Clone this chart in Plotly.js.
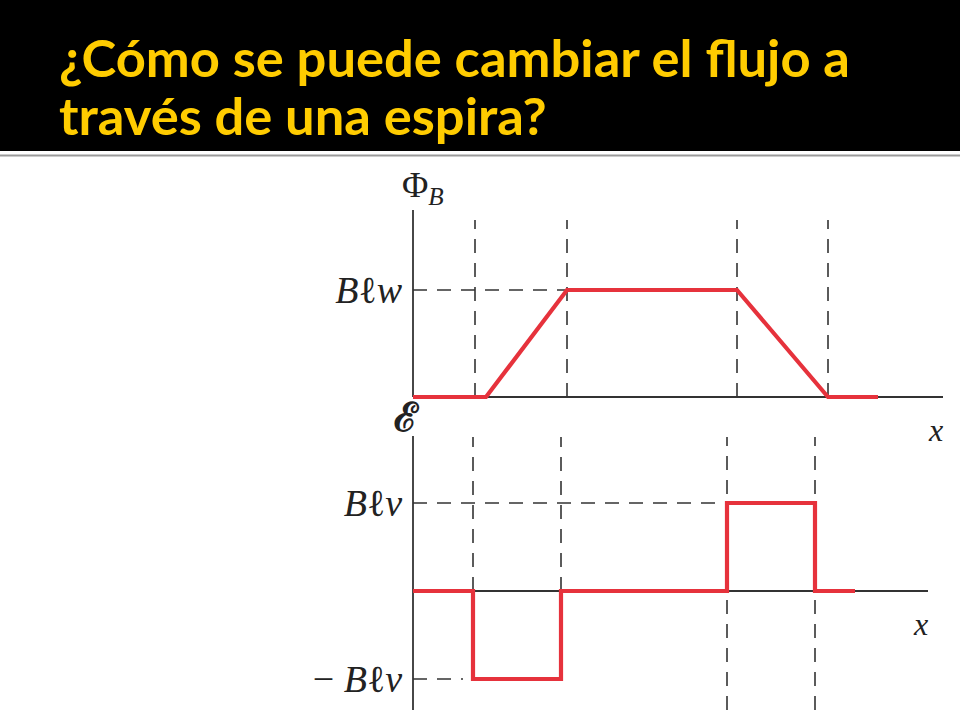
<!DOCTYPE html>
<html>
<head>
<meta charset="utf-8">
<script src="https://cdn.plot.ly/plotly-3.0.1.min.js"></script>
<style>
body { margin: 0; background: #fff; }
#chart { width: 960px; height: 720px; }
</style>
</head>
<body>
<div id="chart"></div>
<script>
// flux through the loop as it moves along x
const phiX = [0, 7.3, 15.4, 32.4, 41.5, 46.5];
const phiY = [0, 0, 1, 1, 0, 0];
const phiEdges = [6.2, 15.4, 32.4, 41.5];
const phiTicks = [1];
const phiTickText = ["<i>B</i>ℓ<i>w</i>"];

// induced emf along x
const emfX = [0, 6.0, 6.0, 14.8, 14.8, 31.4, 31.4, 40.2, 40.2, 44.2];
const emfY = [0, 0, -1, -1, 0, 0, 1, 1, 0, 0];
const emfEdges = [6.0, 14.8, 31.4, 40.2];
const emfTicks = [1, -1];
const emfTickText = ["<i>B</i>ℓ<i>v</i>", "− <i>B</i>ℓ<i>v</i>"];

const titleLines = ["¿Cómo se puede cambiar el flujo a", "través de una espira?"];

const W = 960, H = 720;
const px = v => v / W;
const py = v => 1 - v / H;

const red = "#e6323c";
const ink = "#333333";
const dashed = "14px,10px";
const mathFont = {family: "Liberation Serif, DejaVu Serif, serif", color: "#222", size: 38};

function seg(xref, yref, x0, y0, x1, y1, dash) {
    return {
        type: "line", xref, yref, x0, y0, x1, y1, layer: "below",
        line: {color: ink, width: dash ? 1.6 : 1.8, dash: dash || "solid"},
    };
}

const shapes = [
    // header band
    {type: "rect", xref: "paper", yref: "paper", x0: 0, x1: 1, y0: py(151), y1: 1,
     fillcolor: "#000", line: {width: 0}, layer: "below"},
    {type: "line", xref: "paper", yref: "paper", x0: 0, x1: 1, y0: py(155.5), y1: py(155.5),
     line: {color: "#9a9a9a", width: 2}},
    // axes
    seg("x", "y", 0, 0, 53, 0),
    seg("x", "y", 0, 0, 0, 1.748),
    seg("x2", "y2", 0, 0, 51.5, 0),
    seg("x2", "y2", 0, -1.352, 0, 1.761),
    // guides
    seg("x", "y", 0, phiTicks[0], phiX[2], phiTicks[0], dashed),
    seg("x2", "y2", 0, emfTicks[0], emfX[5], emfTicks[0], dashed),
    seg("x2", "y2", 0, emfTicks[1], 5, emfTicks[1], dashed),
    ...phiEdges.map(e => seg("x", "y", e, 0, e, 1.654, dashed)),
    ...emfEdges.map((e, i) => seg("x2", "y2", e, i < 2 ? 0 : -1.352, e, 1.75, dashed)),
];

const data = [
    {type: "scatter", mode: "lines", x: phiX, y: phiY, xaxis: "x", yaxis: "y",
     line: {color: red, width: 4.2}, hoverinfo: "skip"},
    {type: "scatter", mode: "lines", x: emfX, y: emfY, xaxis: "x2", yaxis: "y2",
     line: {color: red, width: 4.2}, hoverinfo: "skip"},
];

const hidden = {showgrid: false, zeroline: false, showline: false, ticks: "", fixedrange: true};

const layout = {
    width: W, height: H,
    margin: {l: 0, r: 0, t: 0, b: 0},
    paper_bgcolor: "#fff",
    plot_bgcolor: "rgba(0,0,0,0)",
    showlegend: false,
    xaxis: {...hidden, domain: [px(408), px(948)], range: [-0.5, 53.5], showticklabels: false, anchor: "y"},
    yaxis: {...hidden, domain: [py(402), py(205)], range: [-0.0467, 1.794], anchor: "x",
            tickvals: phiTicks, ticktext: phiTickText, tickfont: mathFont, ticklabelstandoff: 5},
    xaxis2: {...hidden, domain: [px(408), px(948)], range: [-0.5, 53.5], showticklabels: false, anchor: "y2"},
    yaxis2: {...hidden, domain: [py(712), py(432)], range: [-1.375, 1.807], anchor: "x2",
             tickvals: emfTicks, ticktext: emfTickText, tickfont: mathFont, ticklabelstandoff: 5},
    shapes,
    annotations: [
        ...titleLines.map((t, i) => ({
            xref: "paper", yref: "paper", x: px(57), y: py(57 + i * 57),
            xanchor: "left", yanchor: "middle", showarrow: false, text: t,
            font: {family: "Lato, Liberation Sans, sans-serif", size: 52.5,
                   color: "#ffcc00", weight: "bold"},
        })),
        {xref: "paper", yref: "paper", x: px(400), y: py(188), xanchor: "left", yanchor: "middle",
         showarrow: false, text: "Φ<sub><i>B</i></sub>", font: {...mathFont, size: 36}},
        {xref: "paper", yref: "paper", x: px(407), y: py(417), xanchor: "center", yanchor: "middle",
         showarrow: false, text: "<b>ℰ</b>", font: {...mathFont, size: 40}},
        {xref: "paper", yref: "paper", x: px(935), y: py(430), xanchor: "center", yanchor: "middle",
         showarrow: false, text: "<i>x</i>", font: {...mathFont, size: 32}},
        {xref: "paper", yref: "paper", x: px(920), y: py(624), xanchor: "center", yanchor: "middle",
         showarrow: false, text: "<i>x</i>", font: {...mathFont, size: 32}},
    ],
};

Plotly.newPlot("chart", data, layout, {staticPlot: true, displayModeBar: false});
</script>
</body>
</html>
